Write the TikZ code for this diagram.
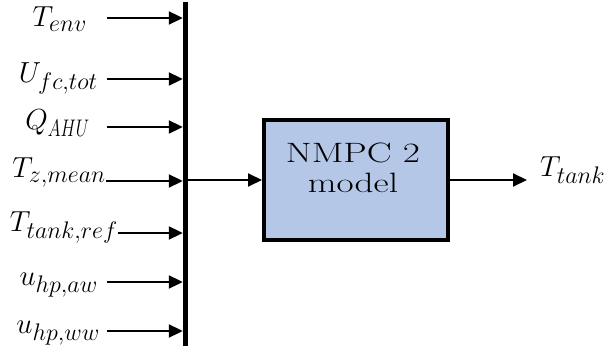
\RequirePackage{fix-cm}
\documentclass[tikz,border=0pt]{standalone}
\usepackage{graphicx}
\usetikzlibrary{arrows.meta}
\DeclareMathSizes{29}{29}{24}{18}
\definecolor{boxblue}{RGB}{180,199,231}
\tikzset{
  sig/.style={line width=2pt, -{Triangle[length=14pt,width=13pt]}},
  sigin/.style={font=\fontsize{29}{31}\selectfont, inner sep=0pt, anchor=base east},
  sigout/.style={font=\fontsize{29}{31}\selectfont, inner sep=0pt, anchor=base west},
  busbar/.style={fill=black, inner sep=0pt, minimum width=5pt, minimum height=344pt},
  blockbox/.style={draw=black, line width=4pt, fill=boxblue, inner sep=0pt,
                   minimum width=184pt, minimum height=120pt},
  blocktext/.style={font=\fontsize{28}{28}\selectfont, align=center, inner sep=0pt}
}
\newcommand{\narrowsub}[1]{\scalebox{0.72}[1]{$\scriptstyle #1$}}
\newcommand{\widetext}[1]{\scalebox{1.33}[1]{#1}}
\begin{document}
\begin{tikzpicture}[x=1pt, y=-1pt]
  \useasboundingbox (0,0) rectangle (610,352);

  % collecting bus
  \node[busbar] (bus) at (185.5,174) {};

  % input signals
  \node[sigin] (l1) at (87,27)   {$T_{env}$};
  \node[sigin] (l2) at (98,83)   {$U_{fc,tot}$};
  \node[sigin] (l3) at (90,130)  {$Q_{\narrowsub{AHU}}$};
  \node[sigin] (l4) at (106,178) {$T_{z,mean}$};
  \node[sigin] (l5) at (118,232) {$T_{tank,ref}$};
  \node[sigin] (l6) at (98,286)  {$u_{hp,aw}$};
  \node[sigin] (l7) at (100,334) {$u_{hp,ww}$};

  \coordinate (s1) at (107,18);
  \coordinate (s2) at (107,79);
  \coordinate (s3) at (107,127);
  \coordinate (s4) at (106,181);
  \coordinate (s5) at (118,233);
  \coordinate (s6) at (107,282);
  \coordinate (s7) at (107,331);
  \foreach \i in {1,...,7}
    \draw[sig] (s\i) -- (s\i -| bus.west);

  % model block
  \node[blockbox] (model) at (356,180) {};
  \node[blocktext, anchor=base] (modeltext) at (353,193)
    {\widetext{NMPC 2}\\[2pt]\widetext{model}};

  \draw[sig] (bus.east |- model.west) -- (model.west);

  % output signal
  \coordinate (o) at (527,180);
  \draw[sig] (model.east) -- (o);
  \node[sigout] (out) at (540,177) {$T_{tank}$};
\end{tikzpicture}
\end{document}
